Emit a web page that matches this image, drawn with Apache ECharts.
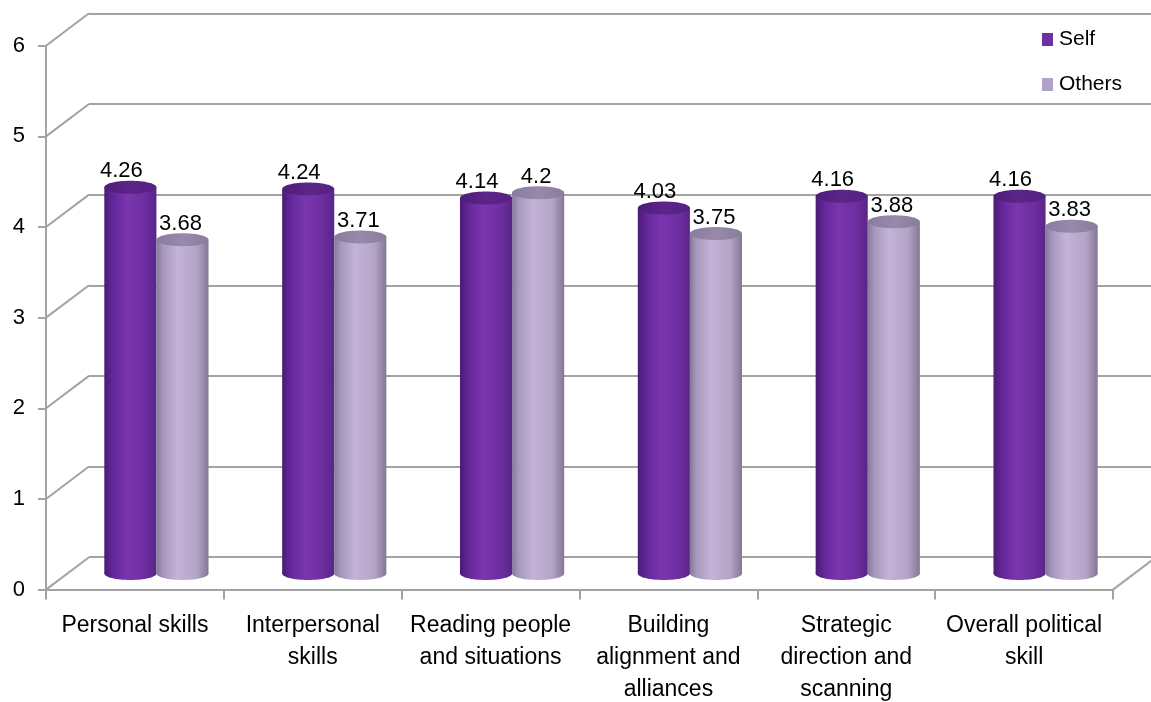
<!DOCTYPE html>
<html>
<head>
<meta charset="utf-8">
<script src="https://cdn.jsdelivr.net/npm/echarts@6/dist/echarts.min.js"></script>
<style>
html,body{margin:0;padding:0;background:#fff;}
#chart{width:1151px;height:702px;}
</style>
</head>
<body>
<div id="chart"></div>
<script>
// ---- data ----
const categories = ['Personal skills', 'Interpersonal\nskills', 'Reading people\nand situations', 'Building\nalignment and\nalliances', 'Strategic\ndirection and\nscanning', 'Overall political\nskill'];
const seriesNames = ['Self', 'Others'];
const selfValues = [4.26, 4.24, 4.14, 4.03, 4.16, 4.16];
const othersValues = [3.68, 3.71, 4.2, 3.75, 3.88, 3.83];
const yTickValues = [0, 1, 2, 3, 4, 5, 6];

// ---- styles ----
const FONT = "'Liberation Sans', Arial, sans-serif";
const GRID_COLOR = '#a3a3a3';
const DEPTH_DX = 43, DEPTH_DY = 32.4;

const chart = echarts.init(document.getElementById('chart'), null, {renderer: 'canvas'});

const styles = [
  {
    body: {type: 'linear', x: 0, y: 0, x2: 1, y2: 0, colorStops: [
      {offset: 0, color: '#4c1b74'}, {offset: 0.18, color: '#65289c'},
      {offset: 0.45, color: '#7a36ae'}, {offset: 0.8, color: '#6c2e9f'},
      {offset: 1, color: '#5a2487'}]},
    top: {type: 'linear', x: 0, y: 0, x2: 1, y2: 0, colorStops: [
      {offset: 0, color: '#4e1d78'}, {offset: 0.5, color: '#5c258a'}, {offset: 1, color: '#552182'}]},
    labelDx: -9
  },
  {
    body: {type: 'linear', x: 0, y: 0, x2: 1, y2: 0, colorStops: [
      {offset: 0, color: '#85779a'}, {offset: 0.12, color: '#a696bb'},
      {offset: 0.4, color: '#c3b3d9'}, {offset: 0.78, color: '#b3a3c6'},
      {offset: 1, color: '#847792'}]},
    top: {type: 'linear', x: 0, y: 0, x2: 1, y2: 0, colorStops: [
      {offset: 0, color: '#8b7c9f'}, {offset: 0.5, color: '#9789aa'}, {offset: 1, color: '#8a7d9b'}]},
    labelDx: -2
  }
];

function cylinderRenderer(sIdx) {
  return function (params, api) {
    const idx = api.value(0);
    const val = api.value(1);
    const top = api.coord([idx, val]);
    const base = api.coord([idx, 0]);
    const band = api.size([1, 0])[0];
    const w = band * 0.293;
    const x0 = sIdx === 0 ? top[0] - w : top[0];
    const rx = w / 2, ry = 6.5;
    const cx = x0 + rx;
    const st = styles[sIdx];
    return {
      type: 'group',
      children: [
        {type: 'ellipse', shape: {cx: cx, cy: base[1], rx: rx, ry: ry}, style: {fill: st.body}},
        {type: 'rect', shape: {x: x0, y: top[1], width: w, height: base[1] - top[1]}, style: {fill: st.body}},
        {type: 'ellipse', shape: {cx: cx, cy: top[1], rx: rx, ry: ry}, style: {fill: st.top}},
        {type: 'text', style: {text: String(val), x: cx + st.labelDx, y: top[1] - 16,
          align: 'center', verticalAlign: 'middle', font: '22px ' + FONT, fill: '#000'}}
      ]
    };
  };
}

const option = {
  backgroundColor: '#fff',
  animation: false,
  legend: {
    orient: 'vertical', left: 1042, top: 29, padding: 0,
    itemWidth: 11, itemHeight: 13, itemGap: 24,
    icon: 'rect',
    textStyle: {fontSize: 21, fontFamily: FONT, color: '#000', padding: [0, 0, 0, 1]},
    data: seriesNames
  },
  grid: [
    {left: 89, top: 13.3, width: 1070, height: 543.9, outerBoundsMode: 'none', containLabel: false},     // back wall
    {left: 46, top: 45.7, width: 1067, height: 543.9, outerBoundsMode: 'none', containLabel: false},     // front frame
    {left: 67.5, top: 29.5, width: 1067, height: 543.9, outerBoundsMode: 'none', containLabel: false}    // bars (mid depth)
  ],
  xAxis: [
    {gridIndex: 0, type: 'category', data: categories, show: false},
    {gridIndex: 1, type: 'category', data: categories,
      axisLine: {lineStyle: {color: GRID_COLOR, width: 2}},
      axisTick: {show: true, length: 10, lineStyle: {color: GRID_COLOR, width: 2}},
      axisLabel: {interval: 0, margin: 20, fontSize: 23, lineHeight: 32, fontFamily: FONT, color: '#000', align: 'center'}},
    {gridIndex: 2, type: 'category', data: categories, show: false}
  ],
  yAxis: [
    {gridIndex: 0, type: 'value', min: 0, max: 6, interval: 1,
      axisLine: {show: false}, axisTick: {show: false}, axisLabel: {show: false},
      splitLine: {show: true, lineStyle: {color: GRID_COLOR, width: 2}}},
    {gridIndex: 1, type: 'value', min: 0, max: 6, interval: 1,
      axisLine: {show: true, lineStyle: {color: GRID_COLOR, width: 2}},
      axisTick: {show: true, length: 8, lineStyle: {color: GRID_COLOR, width: 2}},
      axisLabel: {margin: 21, fontSize: 22, fontFamily: FONT, color: '#000'},
      splitLine: {show: false}},
    {gridIndex: 2, type: 'value', min: 0, max: 6, interval: 1, show: false}
  ],
  series: [
    {
      name: 'depthLines', type: 'custom', xAxisIndex: 1, yAxisIndex: 1, silent: true,
      data: yTickValues.map(v => [0, v]),
      renderItem: function (params, api) {
        const v = api.value(1);
        const cs = params.coordSys;
        const y = api.coord([0, v])[1];
        const children = [{type: 'line', shape: {x1: cs.x, y1: y, x2: cs.x + DEPTH_DX, y2: y - DEPTH_DY},
          style: {stroke: GRID_COLOR, lineWidth: 2}}];
        if (v === 0) {
          const xr = cs.x + cs.width;
          children.push({type: 'line', shape: {x1: xr, y1: y, x2: xr + DEPTH_DX, y2: y - DEPTH_DY},
            style: {stroke: GRID_COLOR, lineWidth: 2}});
        }
        return {type: 'group', children: children};
      },
      z: 1
    },
    {
      name: 'Self', type: 'custom', xAxisIndex: 2, yAxisIndex: 2,
      itemStyle: {color: '#7030a0'},
      data: selfValues.map((v, i) => [i, v]),
      encode: {x: 0, y: 1},
      renderItem: cylinderRenderer(0), z: 3
    },
    {
      name: 'Others', type: 'custom', xAxisIndex: 2, yAxisIndex: 2,
      itemStyle: {color: '#b3a2c7'},
      data: othersValues.map((v, i) => [i, v]),
      encode: {x: 0, y: 1},
      renderItem: cylinderRenderer(1), z: 4
    }
  ]
};
chart.setOption(option);
</script>
</body>
</html>
